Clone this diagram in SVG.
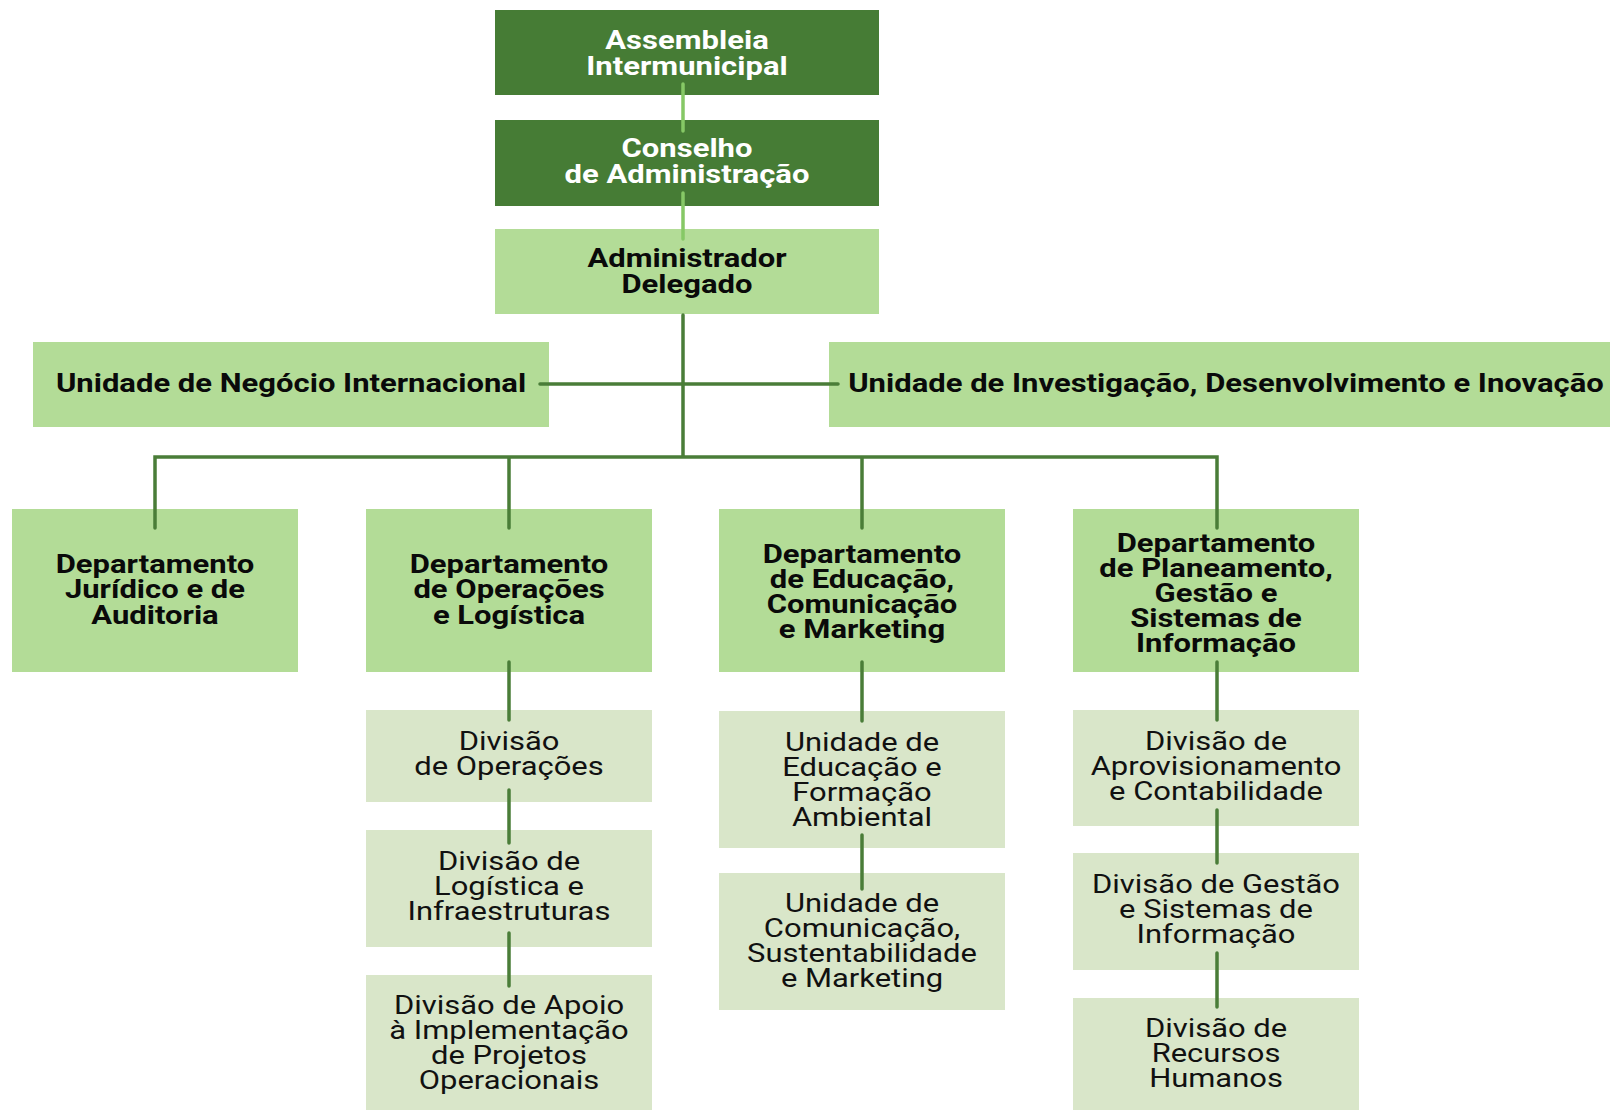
<svg xmlns="http://www.w3.org/2000/svg" width="1610" height="1110" viewBox="0 0 1610 1110">
<style>
.dk{fill:#467c35}
.lt{fill:#b3dc97}
.pl{fill:#d9e6c9}
.tb{font-family:Roboto,"Liberation Sans",sans-serif;font-weight:700;font-size:25px;text-anchor:middle;fill:#0a0a0a}
.tw{fill:#ffffff}
.tr{font-family:Roboto,"Liberation Sans",sans-serif;font-weight:400;font-size:26px;text-anchor:middle;fill:#111111}
.ln{stroke:#4a7d38;stroke-width:3.5;fill:none;stroke-linecap:round;stroke-linejoin:miter}
.ln2{stroke:#86c866}
</style>
<rect width="1610" height="1110" fill="#ffffff"/>
<g id="nodes">
<g id="assembleia"><rect class="dk" x="495" y="10" width="384" height="85"/>
<text class="tb tw" transform="translate(687,0) scale(1.24,1)"><tspan x="0" y="49.5">Assembleia</tspan><tspan x="0" y="75">Intermunicipal</tspan></text></g>
<g id="conselho"><rect class="dk" x="495" y="120" width="384" height="86"/>
<text class="tb tw" transform="translate(687,0) scale(1.24,1)"><tspan x="0" y="157">Conselho</tspan><tspan x="0" y="183">de Administração</tspan></text></g>
<g id="administrador"><rect class="lt" x="495" y="229" width="384" height="85"/>
<text class="tb" transform="translate(687,0) scale(1.24,1)"><tspan x="0" y="267">Administrador</tspan><tspan x="0" y="293">Delegado</tspan></text></g>
<g id="negocio"><rect class="lt" x="33" y="342" width="516" height="85"/>
<text class="tb" transform="translate(291,0) scale(1.24,1)"><tspan x="0" y="392">Unidade de Negócio Internacional</tspan></text></g>
<g id="investigacao"><rect class="lt" x="829" y="342" width="781" height="85"/>
<text class="tb" transform="translate(1226,0) scale(1.24,1)"><tspan x="0" y="392">Unidade de Investigação, Desenvolvimento e Inovação</tspan></text></g>
<g id="dep-juridico"><rect class="lt" x="12" y="509" width="286" height="163"/>
<text class="tb" transform="translate(155,0) scale(1.24,1)"><tspan x="0" y="573">Departamento</tspan><tspan x="0" y="598.5">Jurídico e de</tspan><tspan x="0" y="624">Auditoria</tspan></text></g>
<g id="dep-operacoes"><rect class="lt" x="366" y="509" width="286" height="163"/>
<text class="tb" transform="translate(509,0) scale(1.24,1)"><tspan x="0" y="573">Departamento</tspan><tspan x="0" y="598.5">de Operações</tspan><tspan x="0" y="624">e Logística</tspan></text></g>
<g id="dep-educacao"><rect class="lt" x="719" y="509" width="286" height="163"/>
<text class="tb" transform="translate(862,0) scale(1.24,1)"><tspan x="0" y="563">Departamento</tspan><tspan x="0" y="588">de Educação,</tspan><tspan x="0" y="613">Comunicação</tspan><tspan x="0" y="638">e Marketing</tspan></text></g>
<g id="dep-planeamento"><rect class="lt" x="1073" y="509" width="286" height="163"/>
<text class="tb" transform="translate(1216,0) scale(1.24,1)"><tspan x="0" y="552">Departamento</tspan><tspan x="0" y="577">de Planeamento,</tspan><tspan x="0" y="602">Gestão e</tspan><tspan x="0" y="627">Sistemas de</tspan><tspan x="0" y="652">Informação</tspan></text></g>
<g id="div-operacoes"><rect class="pl" x="366" y="710" width="286" height="92"/>
<text class="tr" transform="translate(509,0) scale(1.19,1)"><tspan x="0" y="750">Divisão</tspan><tspan x="0" y="775">de Operações</tspan></text></g>
<g id="div-logistica"><rect class="pl" x="366" y="830" width="286" height="117"/>
<text class="tr" transform="translate(509,0) scale(1.19,1)"><tspan x="0" y="870">Divisão de</tspan><tspan x="0" y="895">Logística e</tspan><tspan x="0" y="920">Infraestruturas</tspan></text></g>
<g id="div-apoio"><rect class="pl" x="366" y="975" width="286" height="135"/>
<text class="tr" transform="translate(509,0) scale(1.19,1)"><tspan x="0" y="1014">Divisão de Apoio</tspan><tspan x="0" y="1039">à Implementação</tspan><tspan x="0" y="1064">de Projetos</tspan><tspan x="0" y="1089">Operacionais</tspan></text></g>
<g id="un-educacao"><rect class="pl" x="719" y="711" width="286" height="137"/>
<text class="tr" transform="translate(862,0) scale(1.19,1)"><tspan x="0" y="751">Unidade de</tspan><tspan x="0" y="776">Educação e</tspan><tspan x="0" y="801">Formação</tspan><tspan x="0" y="826">Ambiental</tspan></text></g>
<g id="un-comunicacao"><rect class="pl" x="719" y="873" width="286" height="137"/>
<text class="tr" transform="translate(862,0) scale(1.19,1)"><tspan x="0" y="912">Unidade de</tspan><tspan x="0" y="937">Comunicação,</tspan><tspan x="0" y="962">Sustentabilidade</tspan><tspan x="0" y="987">e Marketing</tspan></text></g>
<g id="div-aprovisionamento"><rect class="pl" x="1073" y="710" width="286" height="116"/>
<text class="tr" transform="translate(1216,0) scale(1.19,1)"><tspan x="0" y="750">Divisão de</tspan><tspan x="0" y="775">Aprovisionamento</tspan><tspan x="0" y="800">e Contabilidade</tspan></text></g>
<g id="div-gestao"><rect class="pl" x="1073" y="853" width="286" height="117"/>
<text class="tr" transform="translate(1216,0) scale(1.19,1)"><tspan x="0" y="893">Divisão de Gestão</tspan><tspan x="0" y="918">e Sistemas de</tspan><tspan x="0" y="943">Informação</tspan></text></g>
<g id="div-rh"><rect class="pl" x="1073" y="998" width="286" height="112"/>
<text class="tr" transform="translate(1216,0) scale(1.19,1)"><tspan x="0" y="1037">Divisão de</tspan><tspan x="0" y="1062">Recursos</tspan><tspan x="0" y="1087">Humanos</tspan></text></g>
</g>
<g id="connectors">
<path class="ln ln2" d="M683 84V131M683 193V239"/>
<path class="ln" d="M683 315V457M540 384H838M155 528V457H1217V528M509 457V528M862 457V528"/>
<path class="ln" d="M509 662V720M509 790V843M509 933V986"/>
<path class="ln" d="M862 662V721M862 835V889"/>
<path class="ln" d="M1217 662V720M1217 810V863M1217 953V1007"/>
</g>
</svg>
